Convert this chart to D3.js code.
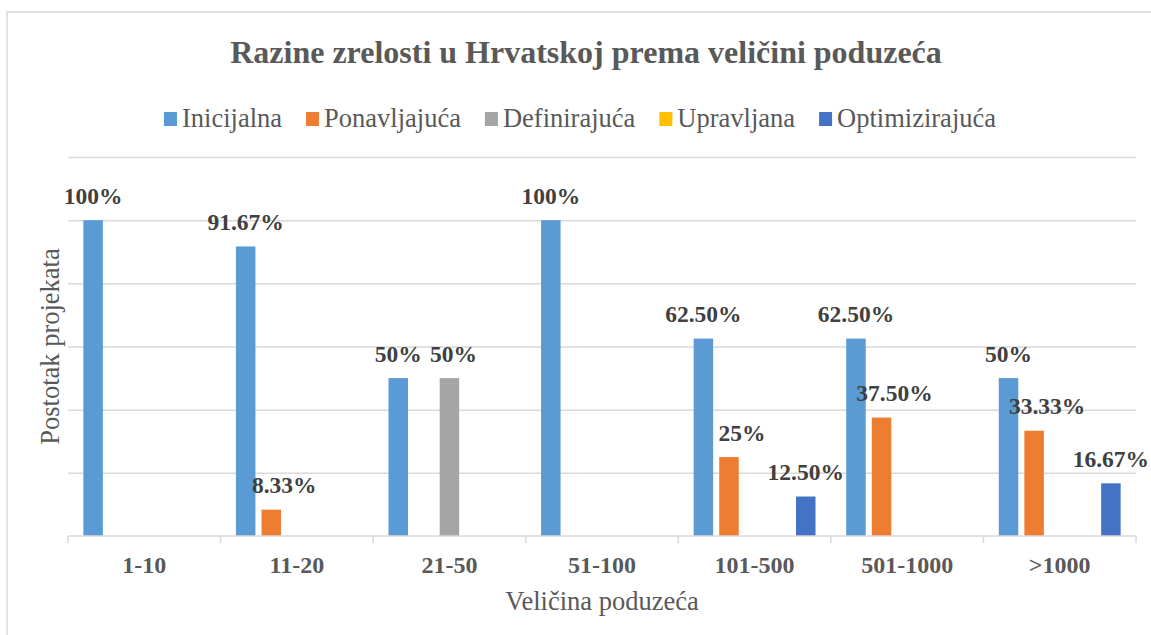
<!DOCTYPE html>
<html>
<head>
<meta charset="utf-8">
<script src="https://cdn.jsdelivr.net/npm/d3@7"></script>
<style>
  body { margin: 0; background: #fff; }
  svg { display: block; font-family: "Liberation Serif", "Times New Roman", serif; }
  .grid line { stroke: #d9d9d9; stroke-width: 1.5; }
  .grid path { display: none; }
  .label { font-weight: bold; font-size: 23.5px; fill: #404040; text-anchor: middle; }
  .tick-label { font-weight: bold; font-size: 24px; fill: #595959; text-anchor: middle; }
</style>
</head>
<body>
<svg width="1151" height="635"></svg>
<script>
// categories (company size) and series
var categories = ["1-10", "11-20", "21-50", "51-100", "101-500", "501-1000", ">1000"];
var seriesNames = ["Inicijalna", "Ponavljajuća", "Definirajuća", "Upravljana", "Optimizirajuća"];

// share of projects per series, one value per category
var inicijalna     = [1, 0.9167, 0.5, 1, 0.625, 0.625, 0.5];
var ponavljajuca   = [0, 0.0833, 0, 0, 0.25, 0.375, 0.3333];
var definirajuca   = [0, 0, 0.5, 0, 0, 0, 0];
var upravljana     = [0, 0, 0, 0, 0, 0, 0];
var optimizirajuca = [0, 0, 0, 0, 0.125, 0, 0.1667];

var yTicks = [0, 0.2, 0.4, 0.6, 0.8, 1.0, 1.2];

var seriesValues = [inicijalna, ponavljajuca, definirajuca, upravljana, optimizirajuca];
var colors = ["#5B9BD5", "#ED7D31", "#A5A5A5", "#FFC000", "#4472C4"];
// small sideways push of the value labels, like excel does to avoid overlap
var labelNudge = [0, 13, 4, 0, 0];

var svg = d3.select("svg");

// outer chart frame
svg.append("rect")
  .attr("x", 7).attr("y", 12)
  .attr("width", 1170).attr("height", 640)
  .attr("fill", "none")
  .attr("stroke", "#d9d9d9")
  .attr("stroke-width", 1.5);

// plot area (note: "top" is taken by window.top, so use other names)
var plotLeft = 68, plotRight = 1136, plotTop = 157, plotBottom = 536;

var x0 = d3.scaleBand()
  .domain(categories)
  .range([plotLeft, plotRight])
  .padding(0);

// bars inside a category
var x1 = d3.scaleBand()
  .domain(d3.range(seriesNames.length))
  .range([0, x0.bandwidth()])
  .paddingInner(0.238)
  .paddingOuter(0.6);

var y = d3.scaleLinear()
  .domain([0, 1.2])
  .range([plotBottom, plotTop]);

// horizontal gridlines
svg.append("g")
  .attr("class", "grid")
  .attr("transform", "translate(" + plotLeft + ",0)")
  .call(d3.axisLeft(y).tickValues(yTicks.slice(1)).tickSize(-(plotRight - plotLeft)).tickFormat(""));

// title
svg.append("text")
  .attr("x", 586).attr("y", 63)
  .attr("text-anchor", "middle")
  .style("font-size", "32px")
  .style("font-weight", "bold")
  .style("fill", "#595959")
  .text("Razine zrelosti u Hrvatskoj prema veličini poduzeća");

// legend: swatch, gap, text, gap
var legend = svg.append("g").attr("class", "legend");
var lx = 0;
seriesNames.forEach(function (name, i) {
  var g = legend.append("g").attr("transform", "translate(" + lx + ",0)");
  g.append("rect")
    .attr("x", 0).attr("y", -15)
    .attr("width", 13).attr("height", 14)
    .attr("fill", colors[i]);
  var t = g.append("text")
    .attr("x", 18).attr("y", 0)
    .style("font-size", "26.5px")
    .style("fill", "#595959")
    .text(name);
  lx += 18 + t.node().getComputedTextLength() + 24;
});
lx -= 24;
legend.attr("transform", "translate(" + (580 - lx / 2) + ",127)");

// bars
var groups = svg.selectAll("g.cat")
  .data(categories)
  .enter()
  .append("g")
  .attr("class", "cat")
  .attr("transform", function (d) { return "translate(" + x0(d) + ",0)"; });

function cells(d, ci) {
  return seriesValues.map(function (vals, si) { return { s: si, v: vals[ci] }; })
    .filter(function (e) { return e.v > 0; });
}

groups.selectAll("rect")
  .data(cells)
  .enter()
  .append("rect")
  .attr("x", function (d) { return x1(d.s); })
  .attr("y", function (d) { return y(d.v); })
  .attr("width", x1.bandwidth())
  .attr("height", function (d) { return plotBottom - y(d.v); })
  .attr("fill", function (d) { return colors[d.s]; });

// value labels
groups.selectAll("text.label")
  .data(cells)
  .enter()
  .append("text")
  .attr("class", "label")
  .attr("x", function (d) { return x1(d.s) + x1.bandwidth() / 2 + labelNudge[d.s]; })
  .attr("y", function (d) { return y(d.v) - 16.5; })
  .text(function (d) {
    var p = d.v * 100;
    if (Math.abs(p - Math.round(p)) < 0.001) return Math.round(p) + "%";
    return p.toFixed(2) + "%";
  });

// x axis line + tick marks between categories
svg.append("line")
  .attr("x1", plotLeft).attr("x2", plotRight)
  .attr("y1", plotBottom).attr("y2", plotBottom)
  .attr("stroke", "#d9d9d9").attr("stroke-width", 1.5);

var edges = categories.map(function (c) { return x0(c); }).concat([plotRight]);
svg.selectAll("line.xtick")
  .data(edges)
  .enter()
  .append("line")
  .attr("class", "xtick")
  .attr("x1", function (d) { return d; }).attr("x2", function (d) { return d; })
  .attr("y1", plotBottom).attr("y2", plotBottom + 7)
  .attr("stroke", "#d9d9d9").attr("stroke-width", 1.5);

svg.selectAll("text.tick-label")
  .data(categories)
  .enter()
  .append("text")
  .attr("class", "tick-label")
  .attr("x", function (d) { return x0(d) + x0.bandwidth() / 2; })
  .attr("y", 573)
  .text(function (d) { return d; });

// axis titles
svg.append("text")
  .attr("x", (plotLeft + plotRight) / 2).attr("y", 610)
  .attr("text-anchor", "middle")
  .style("font-size", "26.5px")
  .style("fill", "#595959")
  .text("Veličina poduzeća");

svg.append("text")
  .attr("transform", "translate(59," + ((plotTop + plotBottom) / 2) + ") rotate(-90)")
  .attr("text-anchor", "middle")
  .style("font-size", "26.5px")
  .style("fill", "#595959")
  .text("Postotak projekata");
</script>
</body>
</html>
